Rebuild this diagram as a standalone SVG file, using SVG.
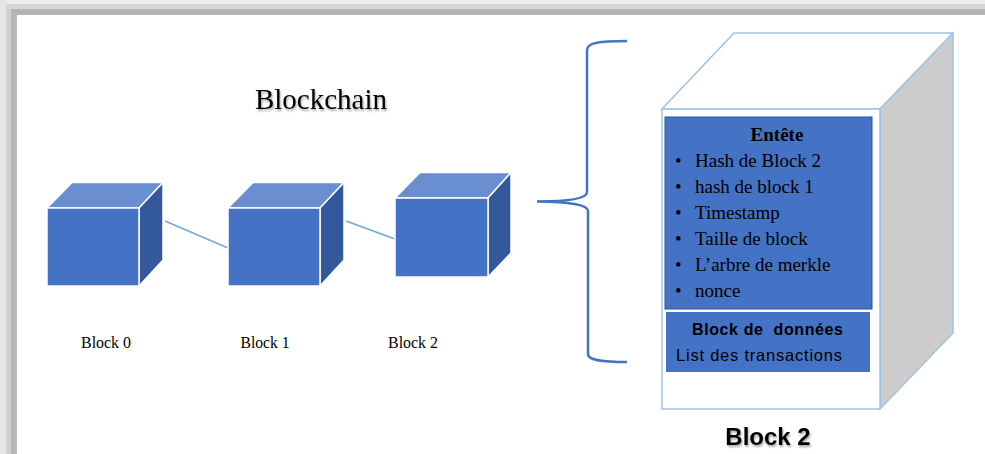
<svg xmlns="http://www.w3.org/2000/svg" width="985" height="454" viewBox="0 0 985 454">
  <defs>
    <style>
      .front { fill: #4472c4; stroke: #ffffff; stroke-width: 1.5; }
      .top { fill: #6a8fd0; stroke: #ffffff; stroke-width: 1.5; }
      .side { fill: #34589c; stroke: #ffffff; stroke-width: 1.5; }
      .link { stroke: #6fa8dc; stroke-width: 1.5; fill: none; }
      .serif { font-family: "Liberation Serif", "Times New Roman", serif; fill: #000; }
      .sans { font-family: "Liberation Sans", Arial, sans-serif; fill: #000; }
      .big { stroke: #9dc3e6; stroke-width: 1.5; }
    </style>
    <filter id="soft" x="-10%" y="-30%" width="120%" height="160%">
      <feGaussianBlur in="SourceAlpha" stdDeviation="1.2"/>
      <feOffset dx="1" dy="1.5" result="b"/>
      <feComponentTransfer><feFuncA type="linear" slope="0.35"/></feComponentTransfer>
      <feMerge><feMergeNode/><feMergeNode in="SourceGraphic"/></feMerge>
    </filter>
  </defs>

  <!-- page and its shadowed frame -->
  <rect x="0" y="0" width="985" height="454" fill="#ffffff"/>
  <rect x="0" y="0" width="985" height="5" fill="#ececec"/>
  <rect x="0" y="4" width="985" height="5" fill="#d6d6d6"/>
  <rect x="0" y="9" width="985" height="6" fill="#b4b4b4"/>
  <rect x="0" y="0" width="6" height="454" fill="#e6e6e6"/>
  <rect x="6" y="9" width="5" height="445" fill="#d0d0d0"/>
  <rect x="11" y="12" width="6" height="442" fill="#b8b8b8"/>

  <!-- title -->
  <text class="serif" x="321" y="109" font-size="29" text-anchor="middle" filter="url(#soft)">Blockchain</text>

  <!-- chain links -->
  <g id="connectors">
    <line class="link" x1="165" y1="221" x2="228" y2="248"/>
    <line class="link" x1="346" y1="221" x2="395" y2="239"/>
  </g>

  <!-- Block 0 -->
  <g id="block0">
    <polygon class="top" points="47,208 72,182.5 163,182.5 139,208"/>
    <polygon class="side" points="139,208 163,182.5 163,260 139,286"/>
    <rect class="front" x="47" y="208" width="92" height="78"/>
    <text class="serif" x="106" y="348" font-size="16" text-anchor="middle" textLength="50" lengthAdjust="spacingAndGlyphs">Block 0</text>
  </g>

  <!-- Block 1 -->
  <g id="block1">
    <polygon class="top" points="228,208 253,182.5 344,182.5 320,208"/>
    <polygon class="side" points="320,208 344,182.5 344,260 320,286"/>
    <rect class="front" x="228" y="208" width="92" height="78"/>
    <text class="serif" x="265" y="348" font-size="16" text-anchor="middle" textLength="49" lengthAdjust="spacingAndGlyphs">Block 1</text>
  </g>

  <!-- Block 2 -->
  <g id="block2">
    <polygon class="top" points="395,198 420,172.5 511,172.5 488,198"/>
    <polygon class="side" points="488,198 511,172.5 511,253 488,277"/>
    <rect class="front" x="395" y="198" width="93" height="79"/>
    <text class="serif" x="413" y="348" font-size="16" text-anchor="middle" textLength="50" lengthAdjust="spacingAndGlyphs">Block 2</text>
  </g>

  <!-- brace opening the detail view -->
  <g id="brace">
    <path d="M 627 41 C 598 41 587 43 587 50 L 587 192 C 587 198 572 201.5 537 201.5 C 572 202 588 205 588 211 L 588 354 C 588 360 600 362 627 362" fill="none" stroke="#4472c4" stroke-width="2.5"/>
  </g>

  <!-- detailed Block 2 -->
  <g id="block2-detail">
    <polygon class="big" fill="#ffffff" points="662,109 734,33 953,33 880,109"/>
    <polygon class="big" fill="#cccccc" points="880,109 953,33 953,333 880,409"/>
    <rect class="big" fill="#ffffff" x="662" y="109" width="218" height="300"/>

    <g id="header">
      <rect x="665" y="117" width="207" height="192" fill="#4472c4" stroke="#2f528f" stroke-width="1"/>
      <text class="serif" x="777" y="141" font-size="19" font-weight="bold" text-anchor="middle">Entête</text>
      <g class="serif" font-size="19">
        <text x="675" y="167">•</text><text x="695" y="167">Hash de Block 2</text>
        <text x="675" y="193">•</text><text x="695" y="193">hash de block 1</text>
        <text x="675" y="219">•</text><text x="695" y="219">Timestamp</text>
        <text x="675" y="245">•</text><text x="695" y="245">Taille de block</text>
        <text x="675" y="271">•</text><text x="695" y="271">L’arbre de merkle</text>
        <text x="675" y="297">•</text><text x="695" y="297">nonce</text>
      </g>
    </g>

    <g id="data">
      <rect x="666" y="312" width="204" height="60" fill="#4472c4"/>
      <text class="sans" x="692" y="335" font-size="16" font-weight="bold" textLength="151" lengthAdjust="spacing" xml:space="preserve">Block de  données</text>
      <text class="sans" x="676" y="361" font-size="16.5" textLength="166" lengthAdjust="spacing">List des transactions</text>
    </g>

    <text class="sans" x="768" y="445" font-size="24" font-weight="bold" text-anchor="middle" filter="url(#soft)">Block 2</text>
  </g>
</svg>
